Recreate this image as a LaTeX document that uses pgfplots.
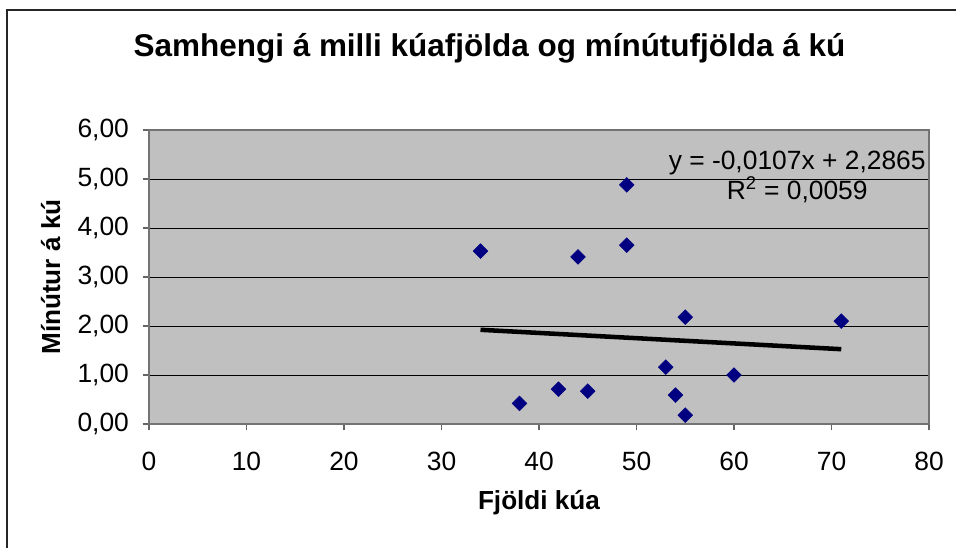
\documentclass[border=0pt]{standalone}
\usepackage{fontspec}
\setmainfont{Liberation Sans}
\usepackage{pgfplots}
\pgfplotsset{compat=1.18}
\definecolor{plotbg}{HTML}{C0C0C0}
\definecolor{navy}{HTML}{000080}
\begin{document}
\begin{tikzpicture}
\useasboundingbox (0,0) rectangle (717pt,410.25pt);
\fill[white] (0,0) rectangle (717pt,410.25pt);
\draw[line width=1.6pt, black!85] (5.25pt,-2pt) |- (720pt,402.5pt);
\begin{axis}[
  at={(111.75pt,92.25pt)}, anchor=south west,
  scale only axis, width=585pt, height=220.5pt,
  xmin=0, xmax=80, ymin=0, ymax=6,
  xtick={0,10,...,80}, ytick={0,1,...,6},
  axis background/.style={fill=plotbg},
  axis line style={draw=black!55, line width=0.9pt},
  ymajorgrids, major grid style={black, line width=0.75pt},
  tick align=outside, xtick pos=bottom, ytick pos=left,
  major tick length=4.8pt,
  tick style={black!60, line width=0.9pt},
  /pgf/number format/assume math mode=true,
  yticklabel style={/pgf/number format/.cd, fixed, fixed zerofill, precision=2, use comma, /tikz/.cd, xshift=-6.75pt},
  xticklabel style={/pgf/number format/.cd, fixed, precision=0, /tikz/.cd, yshift=-12.5pt},
  tick label style={font=\fontsize{19.8}{22}\selectfont},
  title={Samhengi á milli kúafjölda og mínútufjölda á kú},
  title style={font=\fontsize{23.6}{26}\selectfont\bfseries, at={(axis description cs:0.4365,1.224)}, anchor=base},
  xlabel={Fjöldi kúa},
  ylabel={Mínútur á kú},
  every axis x label/.style={font=\fontsize{19.6}{22}\selectfont\bfseries, at={(axis description cs:0.5,0)}, anchor=base, yshift=-64pt},
  every axis y label/.style={font=\fontsize{19.6}{22}\selectfont\bfseries, at={(axis description cs:0,0.5)}, rotate=90, anchor=base, yshift=66.75pt},
  clip=false,
]
\addplot[only marks, mark=square*, mark size=3.9pt, mark options={rotate=45, fill=navy, draw=navy}] coordinates {
(34,3.53) (38,0.42) (42,0.71) (44,3.41) (45,0.67) (49,4.88) (49,3.65)
(53,1.16) (54,0.59) (55,2.18) (55,0.18) (60,1.00) (71,2.10)
};
\addplot[black, line width=3.4pt] coordinates {(34,1.9227) (71,1.5268)};
\node[anchor=base, font=\fontsize{19.8}{22}\selectfont] at (rel axis cs:0.831,0.867) {y = -0,0107x + 2,2865};
\node[anchor=base, font=\fontsize{19.8}{22}\selectfont] at (rel axis cs:0.831,0.765) {R\textsuperscript{2} = 0,0059};
\end{axis}
\end{tikzpicture}
\end{document}
